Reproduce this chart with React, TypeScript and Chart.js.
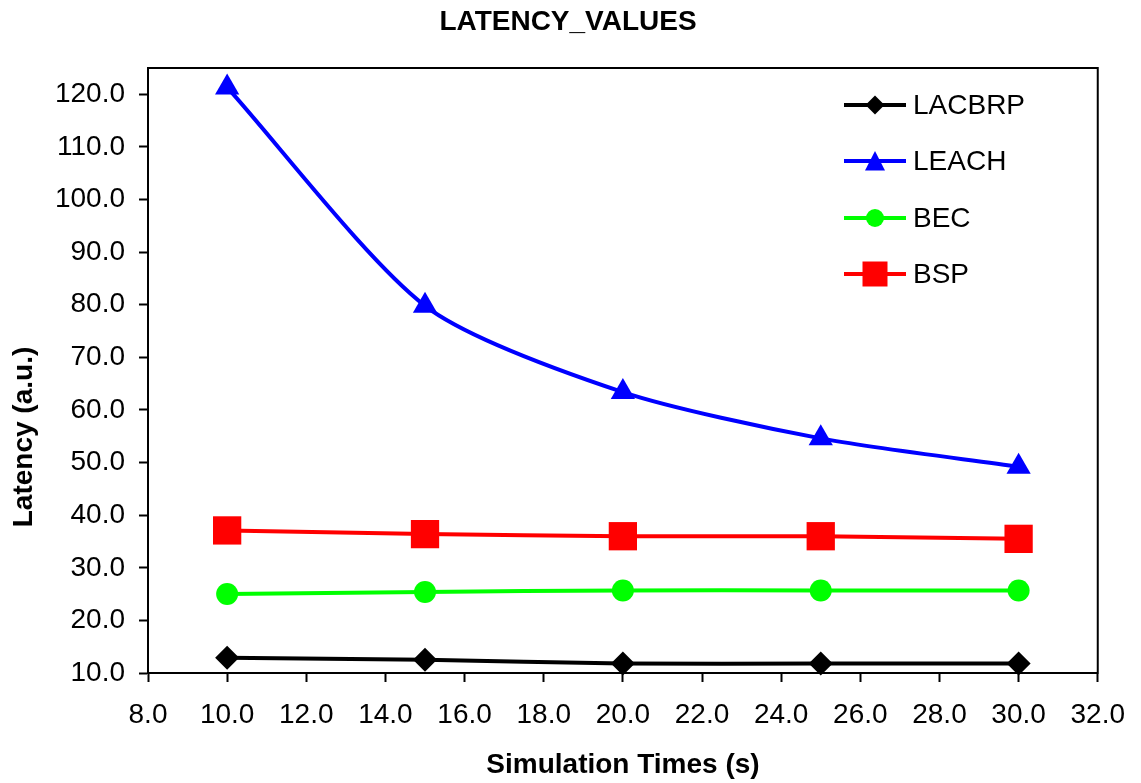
import React, { useEffect, useRef } from 'react';
import { Chart, registerables } from 'chart.js';

Chart.register(...registerables);

const xValues = [10, 15, 20, 25, 30];
const lacbrp = [12.9, 12.5, 11.8, 11.8, 11.8];
const leach = [121.3, 79.8, 63.4, 54.6, 49.2];
const bec = [25.0, 25.4, 25.7, 25.7, 25.7];
const bsp = [37.1, 36.4, 36.0, 36.0, 35.5];
const seriesNames = ['LACBRP', 'LEACH', 'BEC', 'BSP'];
const seriesColors = ['#000000', '#0000FF', '#00FF00', '#FF0000'];
const yTicks = [10, 20, 30, 40, 50, 60, 70, 80, 90, 100, 110, 120];
const xTicks = [8, 10, 12, 14, 16, 18, 20, 22, 24, 26, 28, 30, 32];
const chartTitle = 'LATENCY_VALUES';
const xTitle = 'Simulation Times (s)';
const yTitle = 'Latency (a.u.)';

const FONT = '"Liberation Sans", Arial, sans-serif';

function drawMarker(ctx: CanvasRenderingContext2D, kind: string, x: number, y: number, s: number, color: string) {
  ctx.save();
  ctx.fillStyle = color;
  ctx.beginPath();
  if (kind === 'diamond') {
    ctx.moveTo(x, y - s);
    ctx.lineTo(x + s, y);
    ctx.lineTo(x, y + s);
    ctx.lineTo(x - s, y);
    ctx.closePath();
  } else if (kind === 'triangle') {
    ctx.moveTo(x, y - s);
    ctx.lineTo(x + s, y + s * 0.95);
    ctx.lineTo(x - s, y + s * 0.95);
    ctx.closePath();
  } else if (kind === 'circle') {
    ctx.arc(x, y, s, 0, Math.PI * 2);
  } else {
    ctx.rect(x - s, y - s, 2 * s, 2 * s);
  }
  ctx.fill();
  ctx.restore();
}

const decorPlugin = {
  id: 'decor',
  beforeDatasetsDraw(chart: any) {
    const { ctx, chartArea } = chart;
    ctx.save();
    ctx.strokeStyle = '#000';
    ctx.lineWidth = 2;
    ctx.strokeRect(chartArea.left, chartArea.top, chartArea.right - chartArea.left, chartArea.bottom - chartArea.top);
    ctx.restore();
  },
  afterDraw(chart: any) {
    const { ctx } = chart;
    ctx.save();
    ctx.fillStyle = '#000';
    ctx.font = `bold 28px ${FONT}`;
    ctx.textAlign = 'center';
    ctx.textBaseline = 'middle';
    ctx.fillText(chartTitle, 568, 22);
    ctx.fillText(xTitle, 623, 765);
    ctx.save();
    ctx.translate(24, 437);
    ctx.rotate(-Math.PI / 2);
    ctx.fillText(yTitle, 0, 0);
    ctx.restore();

    // legend
    const rows = [105, 161, 218, 274];
    const kinds = ['diamond', 'triangle', 'circle', 'square'];
    const sizes = [9.5, 10, 9, 12.5];
    ctx.font = `28px ${FONT}`;
    ctx.textAlign = 'left';
    for (let i = 0; i < seriesNames.length; i++) {
      const y = rows[i];
      ctx.strokeStyle = seriesColors[i];
      ctx.lineWidth = 4;
      ctx.beginPath();
      ctx.moveTo(844, y);
      ctx.lineTo(906, y);
      ctx.stroke();
      drawMarker(ctx, kinds[i], 875, y, sizes[i], seriesColors[i]);
      ctx.fillStyle = '#000';
      ctx.fillText(seriesNames[i], 913, y + 1);
    }
    ctx.restore();
  },
};

export default function App() {
  const ref = useRef<HTMLCanvasElement | null>(null);
  useEffect(() => {
    if (!ref.current) return;
    const mk = (i: number, values: number[], style: string, radius: number) => ({
      label: seriesNames[i],
      data: xValues.map((x, j) => ({ x, y: values[j] })),
      borderColor: seriesColors[i],
      backgroundColor: seriesColors[i],
      pointBackgroundColor: seriesColors[i],
      pointBorderColor: seriesColors[i],
      pointBorderWidth: 0,
      borderWidth: 4,
      pointStyle: style,
      pointRadius: radius,
      tension: 0.25,
      clip: false as any,
    });
    const chart = new Chart(ref.current, {
      type: 'line',
      data: {
        datasets: [
          mk(0, lacbrp, 'rectRot', 12),
          mk(1, leach, 'triangle', 14),
          mk(2, bec, 'circle', 11),
          mk(3, bsp, 'rect', 20),
        ],
      },
      options: {
        animation: false,
        responsive: false,
        devicePixelRatio: 1,
        layout: { padding: { left: 0, top: 68, right: 43, bottom: 0 } },
        plugins: {
          legend: { display: false },
          title: { display: false },
          tooltip: { enabled: false },
        },
        scales: {
          x: {
            type: 'linear',
            min: 8,
            max: 32,
            afterBuildTicks: (scale: any) => {
              scale.ticks = xTicks.map((v) => ({ value: v }));
            },
            afterFit: (scale: any) => {
              scale.height = 110;
            },
            ticks: {
              color: '#000',
              font: { family: FONT, size: 28 },
              padding: 16,
              maxRotation: 0,
              autoSkip: false,
              callback: (v: any) => Number(v).toFixed(1),
            },
            grid: { drawOnChartArea: false, drawTicks: true, tickLength: 9, tickWidth: 2, tickColor: '#000' },
            border: { display: true, color: '#000', width: 2 },
          },
          y: {
            type: 'linear',
            min: 10,
            max: 125,
            afterBuildTicks: (scale: any) => {
              scale.ticks = yTicks.map((v) => ({ value: v }));
            },
            afterFit: (scale: any) => {
              scale.width = 148;
            },
            ticks: {
              color: '#000',
              font: { family: FONT, size: 28 },
              padding: 14,
              autoSkip: false,
              callback: (v: any) => Number(v).toFixed(1),
            },
            grid: { drawOnChartArea: false, drawTicks: true, tickLength: 9, tickWidth: 2, tickColor: '#000' },
            border: { display: true, color: '#000', width: 2 },
          },
        },
      },
      plugins: [decorPlugin],
    });
    return () => chart.destroy();
  }, []);
  return (
    <div style={{ position: 'absolute', left: 0, top: 0, width: 1141, height: 783, background: '#fff' }}>
      <canvas ref={ref} width={1141} height={783} />
    </div>
  );
}
